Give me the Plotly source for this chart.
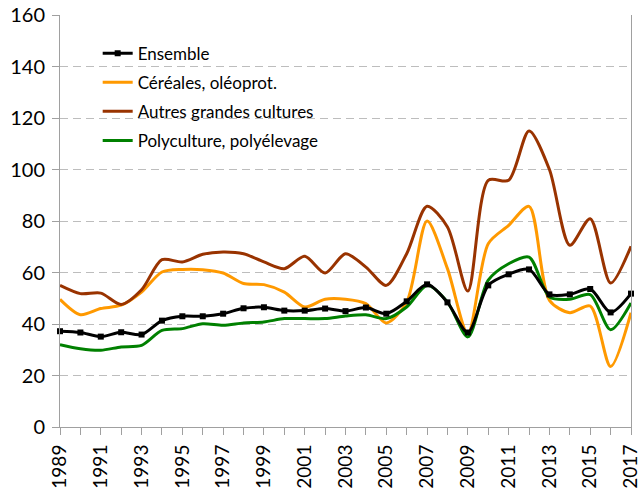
import plotly.graph_objects as go

years = list(range(1989, 2018))

ensemble = [37.2, 36.7, 35.1, 36.8, 35.9, 41.3, 43.0, 43.0, 44.0, 46.1, 46.5, 45.2, 45.2, 46.0, 45.0,
            46.4, 44.0, 48.8, 55.4, 48.4, 36.7, 55.0, 59.3, 61.2, 51.5, 51.5, 53.6, 44.5, 51.8]
cereales = [49.6, 43.6, 46.0, 47.3, 52.4, 60.2, 61.2, 61.1, 59.8, 55.7, 55.3, 52.4, 46.6, 49.6, 49.6,
            47.9, 40.4, 48.5, 80.0, 61.5, 36.3, 71.2, 78.3, 85.7, 49.2, 44.4, 47.0, 23.5, 44.4]
autres = [55.0, 51.8, 52.0, 47.6, 53.3, 65.0, 64.1, 67.1, 68.0, 67.3, 64.1, 61.5, 66.3, 59.8, 67.3,
          62.1, 55.0, 67.3, 85.7, 77.7, 52.8, 95.8, 95.8, 115.0, 100.0, 70.6, 80.9, 55.9, 70.2]
polyculture = [32.0, 30.4, 29.8, 31.1, 31.7, 37.5, 38.2, 40.1, 39.5, 40.4, 40.8, 42.1, 42.1, 42.1, 43.1,
               43.6, 42.1, 46.6, 55.0, 48.5, 35.0, 57.0, 63.4, 66.0, 50.5, 49.6, 51.4, 37.8, 48.2]

names = ["Ensemble", "Céréales, oléoprot.", "Autres grandes cultures", "Polyculture, polyélevage"]
y_ticks = list(range(0, 161, 20))
x_tick_labels = [str(y) for y in range(1989, 2018, 2)]

FONT = "Lato, 'Open Sans', sans-serif"

fig = go.Figure()
series = [
    (names[1], cereales, "#FF9900"),
    (names[2], autres, "#993300"),
    (names[3], polyculture, "#008000"),
]
for i, (nm, vals, col) in enumerate(series):
    fig.add_trace(go.Scatter(
        x=years, y=vals, name=nm, mode="lines",
        line=dict(color=col, width=3, shape="spline", smoothing=0.8),
        legendrank=i + 2, legendgroup=nm, cliponaxis=False,
    ))
fig.add_trace(go.Scatter(
    x=years, y=ensemble, name=names[0], mode="lines+markers",
    line=dict(color="#000000", width=3, shape="spline", smoothing=0.8),
    marker=dict(symbol="square", size=6, color="#000000"),
    legendrank=1, legendgroup=names[0], cliponaxis=False,
))

fig.update_layout(
    width=639, height=490,
    margin=dict(l=60, r=8, t=15, b=63),
    paper_bgcolor="white", plot_bgcolor="white",
    font=dict(family=FONT, color="#000000"),
    showlegend=True,
    legend=dict(
        x=0.066, y=0.95, xanchor="left", yanchor="top",
        font=dict(size=17, family=FONT),
        bgcolor="rgba(0,0,0,0)",
        tracegroupgap=4,
        traceorder="grouped",
        itemwidth=30,
    ),
    xaxis=dict(
        range=[1989, 2017],
        tickmode="array",
        tickvals=list(range(1989, 2018, 2)),
        ticktext=x_tick_labels,
        tickangle=-90,
        tickfont=dict(size=19, family=FONT),
        ticklabeloverflow="allow",
        ticklabelstandoff=2,
        showgrid=False,
        showline=True, linecolor="#A0A0A0", linewidth=1,
        ticks="outside", ticklen=7, tickcolor="#A0A0A0",
        minor=dict(dtick=1, ticks="outside", ticklen=7, tickcolor="#A0A0A0", showgrid=False),
        zeroline=False,
        automargin=False,
    ),
    yaxis=dict(
        range=[0, 160],
        tickmode="array",
        tickvals=y_ticks,
        ticktext=[str(v) for v in y_ticks],
        tickfont=dict(size=20, family=FONT),
        ticklabeloverflow="allow",
        ticklabelstandoff=3,
        showgrid=True, gridcolor="#BDBDBD", griddash="8px,5px", gridwidth=1,
        showline=True, linecolor="#A0A0A0", linewidth=1, mirror=True,
        ticks="outside", ticklen=7, tickcolor="#A0A0A0",
        zeroline=False,
        automargin=False,
    ),
)

fig.write_html(
    "out.html",
    config={"displayModeBar": False},
    post_script="document.documentElement.style.overflow='hidden';"
                "document.body.style.margin='0';document.body.style.overflow='hidden';",
)
